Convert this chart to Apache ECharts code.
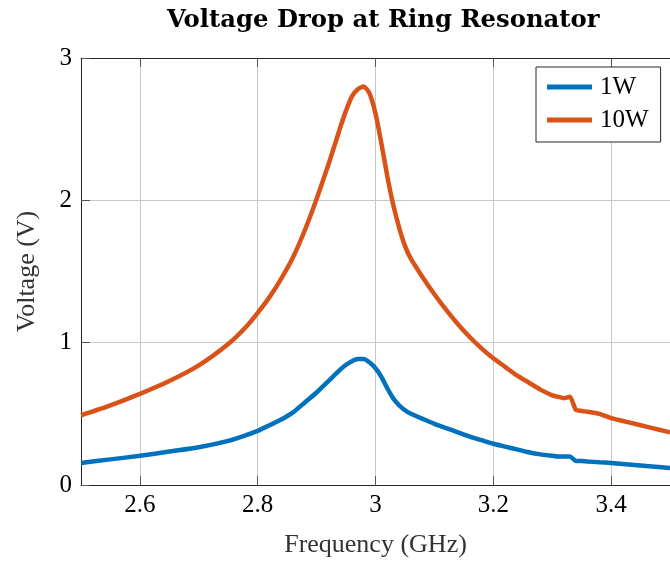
<!DOCTYPE html>
<html>
<head>
<meta charset="utf-8">
<script src="https://cdn.jsdelivr.net/npm/echarts@6/dist/echarts.min.js"></script>
<style>html,body{margin:0;padding:0;background:#fff;}#c{width:670px;height:563px;}</style>
</head>
<body>
<div id="c"></div>
<script>
const freq = [2.50,2.55,2.60,2.65,2.70,2.75,2.78,2.80,2.82,2.84,2.86,2.88,2.90,2.92,2.94,2.95,2.96,2.97,2.98,2.99,3.00,3.01,3.02,3.03,3.04,3.05,3.06,3.08,3.10,3.12,3.14,3.16,3.18,3.20,3.22,3.24,3.26,3.28,3.30,3.31,3.32,3.33,3.34,3.35,3.36,3.38,3.40,3.42,3.44,3.46,3.48,3.50];
const v1W = [0.155,0.18,0.205,0.235,0.265,0.31,0.35,0.38,0.42,0.46,0.51,0.58,0.65,0.73,0.81,0.845,0.87,0.885,0.885,0.86,0.82,0.76,0.68,0.61,0.56,0.525,0.50,0.465,0.43,0.40,0.37,0.34,0.315,0.29,0.27,0.25,0.23,0.215,0.205,0.20,0.20,0.20,0.17,0.168,0.165,0.16,0.155,0.148,0.14,0.133,0.127,0.12];
const v10W = [0.49,0.56,0.64,0.73,0.84,0.99,1.11,1.21,1.32,1.45,1.60,1.79,2.01,2.25,2.51,2.63,2.73,2.78,2.80,2.75,2.61,2.40,2.17,1.97,1.81,1.68,1.59,1.46,1.34,1.23,1.13,1.04,0.96,0.89,0.83,0.77,0.72,0.67,0.63,0.62,0.61,0.62,0.53,0.52,0.515,0.50,0.47,0.45,0.43,0.41,0.39,0.37];
const seriesNames = ['1W','10W'];
const xTicks = [2.6,2.8,3,3.2,3.4];
const yTicks = [0,1,2,3];

const serif = 'Liberation Serif';
const chart = echarts.init(document.getElementById('c'), null, {renderer:'canvas'});
const pair = (vals) => freq.map((f,i)=>[f, vals[i]]);
const axisCol = '#262626';
const gridCol = '#c8c8c8';
chart.setOption({
  animation:false,
  backgroundColor:'#fff',
  title:{
    text:'Voltage Drop at Ring Resonator',
    left:162, top:4,
    textStyle:{fontFamily:'DejaVu Serif', fontWeight:'bold', fontSize:24.3, color:'#000'}
  },
  legend:{
    orient:'vertical', left:536, top:67,
    padding:[7,12,9,11], itemGap:7,
    backgroundColor:'#fff', borderColor:axisCol, borderWidth:1,
    itemWidth:45, itemHeight:5, icon:'rect',
    textStyle:{fontFamily:serif, fontSize:25, color:'#000', lineHeight:26, padding:[0,0,0,3]},
    data:seriesNames
  },
  grid:{left:81, top:58, right:-10, bottom:73, containLabel:false},
  xAxis:[{
    type:'value', min:2.5, max:3.5, interval:0.1,
    name:'Frequency (GHz)', nameLocation:'middle', nameGap:47,
    nameTextStyle:{fontFamily:serif, fontSize:26, color:'#333'},
    axisLine:{show:true, lineStyle:{color:axisCol, width:1}},
    axisTick:{show:true, inside:true, length:9, lineStyle:{color:'#555'},
      customValues: xTicks},
    axisLabel:{fontFamily:serif, fontSize:25, color:'#000', margin:8,
      customValues: xTicks,
      formatter:(v)=>String(Math.round(v*10)/10)},
    splitLine:{show:true, lineStyle:{color:gridCol, width:1},
      customValues: xTicks}
  },{
    type:'value', position:'top', min:2.5, max:3.5, interval:0.1,
    axisLine:{show:true, onZero:false, lineStyle:{color:axisCol, width:1}},
    axisTick:{show:true, inside:true, length:9, lineStyle:{color:'#555'}, customValues:xTicks},
    axisLabel:{show:false}, splitLine:{show:false}
  }],
  yAxis:[{
    type:'value', min:0, max:3, interval:1,
    name:'Voltage (V)', nameLocation:'middle', nameGap:41,
    nameTextStyle:{fontFamily:serif, fontSize:26, color:'#333'},
    axisLine:{show:true, lineStyle:{color:axisCol, width:1}},
    axisTick:{show:true, inside:true, length:9, lineStyle:{color:'#555'}},
    axisLabel:{fontFamily:serif, fontSize:25, color:'#000', margin:9,
      customValues:yTicks},
    splitLine:{show:true, lineStyle:{color:gridCol, width:1}}
  },{
    type:'value', position:'right', min:0, max:3, interval:1,
    axisLine:{show:true, onZero:false, lineStyle:{color:axisCol, width:1}},
    axisTick:{show:false}, axisLabel:{show:false}, splitLine:{show:false}
  }],
  series:[
    {name:seriesNames[0], type:'line', data:pair(v1W), showSymbol:false, symbol:'none', smooth:0.2,
     lineStyle:{color:'#0072BD', width:4.5}, itemStyle:{color:'#0072BD'}, z:3},
    {name:seriesNames[1], type:'line', data:pair(v10W), showSymbol:false, symbol:'none', smooth:0.2,
     lineStyle:{color:'#D95319', width:4.5}, itemStyle:{color:'#D95319'}, z:3}
  ]
});
</script>
</body>
</html>
